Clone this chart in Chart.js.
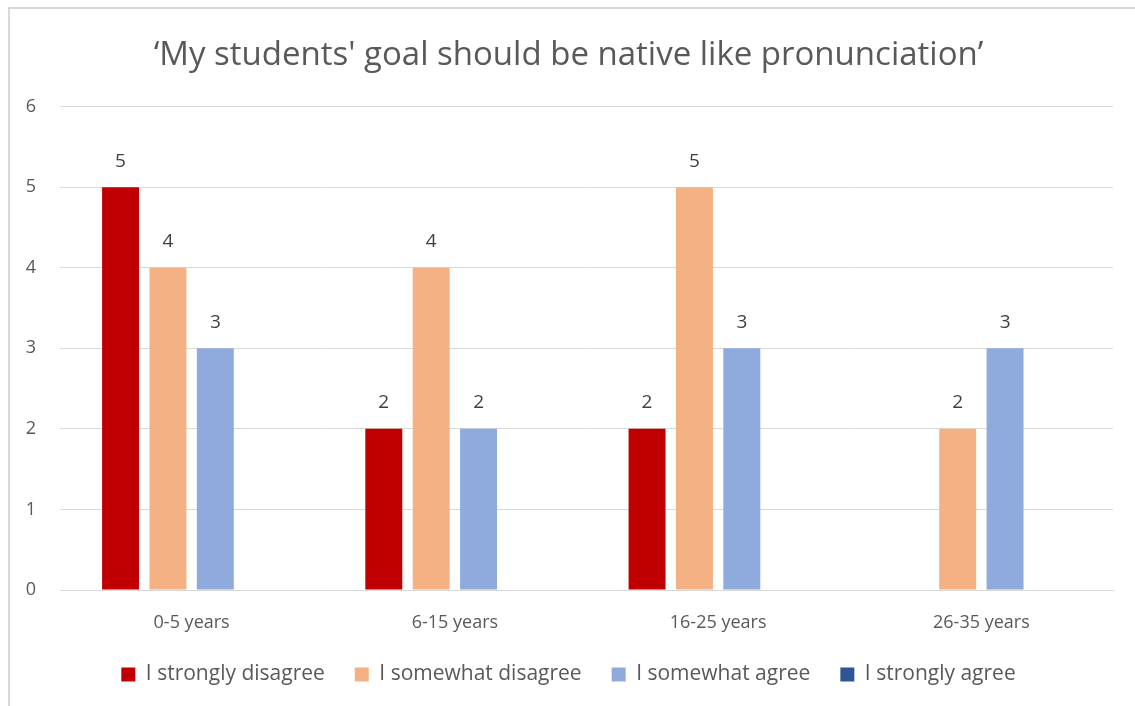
<!DOCTYPE html>
<html>
<head>
<meta charset="utf-8">
<script src="https://cdn.jsdelivr.net/npm/chart.js@4/dist/chart.umd.min.js"></script>
<style>
  html, body { margin: 0; padding: 0; background: #fff; overflow: hidden; }
  #frame { position: absolute; left: 8px; top: 7px; width: 1200px; height: 800px; border: 2px solid #d9d9d9; }
  #wrap { position: absolute; left: 0; top: 0; width: 1135px; height: 706px; }
</style>
</head>
<body>
<div id="frame"></div>
<div id="wrap"><canvas id="chart"></canvas></div>
<script>
const categories = ['0-5 years', '6-15 years', '16-25 years', '26-35 years'];
const seriesNames = ['I strongly disagree', 'I somewhat disagree', 'I somewhat agree', 'I strongly agree'];
const stronglyDisagree = [5, 2, 2, null];
const somewhatDisagree = [4, 4, 5, 2];
const somewhatAgree = [3, 2, 3, 3];
const stronglyAgree = [null, null, null, null];
const yTicks = [0, 1, 2, 3, 4, 5, 6];

const colors = ['#C00000', '#F4B183', '#8FAADC', '#2F5597'];
const FONT = 'Open Sans';
const textColor = '#595959';

// draws the value above each bar
const barLabels = {
    id: 'barLabels',
    afterDatasetsDraw(chart) {
        const ctx = chart.ctx;
        ctx.save();
        ctx.font = '19px ' + FONT;
        ctx.fillStyle = '#404040';
        ctx.textAlign = 'center';
        ctx.textBaseline = 'middle';
        chart.data.datasets.forEach((ds, i) => {
            const meta = chart.getDatasetMeta(i);
            meta.data.forEach((bar, j) => {
                const v = ds.data[j];
                if (v === null || v === undefined) return;
                ctx.fillText(String(v), bar.x, bar.y - 26);
            });
        });
        ctx.restore();
    }
};

new Chart(document.getElementById('chart'), {
    type: 'bar',
    data: {
        labels: categories,
        datasets: [stronglyDisagree, somewhatDisagree, somewhatAgree, stronglyAgree].map((d, i) => ({
            label: seriesNames[i],
            data: d,
            backgroundColor: colors[i],
            borderWidth: 0,
            barPercentage: 0.78,
            categoryPercentage: 0.72
        }))
    },
    options: {
        responsive: true,
        maintainAspectRatio: false,
        animation: false,
        layout: { padding: { left: 24, right: 22, top: 22, bottom: 11 } },
        plugins: {
            title: {
                display: true,
                text: '\u2018My students\' goal should be native like pronunciation\u2019',
                color: textColor,
                font: { family: FONT, size: 33, weight: 'normal' },
                padding: { top: 14, bottom: 31 }
            },
            legend: {
                position: 'bottom',
                labels: {
                    color: textColor,
                    font: { family: FONT, size: 21 },
                    boxWidth: 14,
                    boxHeight: 14,
                    padding: 30
                }
            },
            tooltip: { enabled: false }
        },
        scales: {
            x: {
                grid: { display: false },
                border: { color: '#d9d9d9', width: 1 },
                ticks: { color: textColor, font: { family: FONT, size: 18 }, padding: 14 },
                afterFit: s => { s.height = 44; }
            },
            y: {
                min: 0,
                max: 6,
                afterBuildTicks: s => { s.ticks = yTicks.map(v => ({ value: v })); },
                afterFit: s => { s.width = 36; },
                grid: { color: '#d9d9d9', lineWidth: 1, drawTicks: false },
                border: { display: false },
                ticks: { color: textColor, font: { family: FONT, size: 18 }, padding: 24 }
            }
        }
    },
    plugins: [barLabels]
});
</script>
</body>
</html>
